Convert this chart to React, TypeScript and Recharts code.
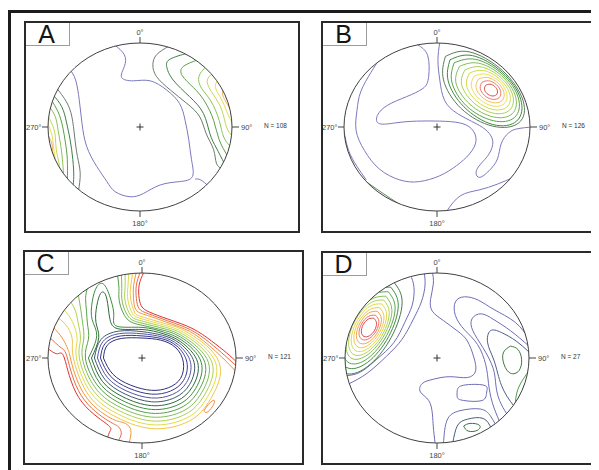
import React from 'react';
import { ComposedChart, Line, XAxis, YAxis, ReferenceDot } from 'recharts';

type P = [number, number];
type Series = { pts: P[]; color: string };

// ================= Panel A (N = 108) =================
const aLow: P[] = [[-0.28,0.98],[-0.17,0.86],[-0.17,0.72],[-0.20,0.59],[-0.07,0.55],[0.11,0.55],[0.29,0.44],[0.43,0.28],[0.49,0.08],[0.53,-0.15],[0.56,-0.39],[0.57,-0.59],[0.43,-0.65],[0.22,-0.69],[0.04,-0.79],[-0.11,-0.83],[-0.27,-0.77],[-0.36,-0.65],[-0.47,-0.47],[-0.58,-0.23],[-0.63,0.04],[-0.66,0.32],[-0.70,0.56],[-0.76,0.68]];
const aLowTail: P[] = [[0.60,-0.62],[0.66,-0.63],[0.74,-0.70]];
const aEast1: P[] = [[0.31,0.96],[0.18,0.86],[0.14,0.74],[0.18,0.60],[0.33,0.44],[0.51,0.28],[0.65,0.12],[0.72,-0.08],[0.80,-0.27],[0.83,-0.43],[0.89,-0.50]];
const aEast2: P[] = [[0.52,0.88],[0.33,0.81],[0.29,0.72],[0.36,0.56],[0.54,0.36],[0.69,0.16],[0.76,-0.08],[0.83,-0.25],[0.92,-0.44]];
const aEast3: P[] = [[0.63,0.80],[0.47,0.72],[0.46,0.61],[0.58,0.47],[0.70,0.31],[0.80,0.08],[0.86,-0.15],[0.96,-0.36]];
const aEast4: P[] = [[0.72,0.72],[0.64,0.60],[0.67,0.46],[0.77,0.31],[0.86,0.08],[0.91,-0.12],[0.99,-0.24]];
const aEast5: P[] = [[0.79,0.64],[0.73,0.54],[0.80,0.38],[0.89,0.20],[0.94,0.0],[1.01,-0.12]];
const aEast6: P[] = [[0.85,0.56],[0.82,0.47],[0.89,0.32],[0.96,0.14],[1.02,0.02]];
const aEast7: P[] = [[0.91,0.46],[0.90,0.38],[0.95,0.27],[1.01,0.16]];
const aWest1: P[] = [[-0.91,0.47],[-0.80,0.30],[-0.74,0.12],[-0.71,-0.12],[-0.68,-0.35],[-0.65,-0.55],[-0.67,-0.77]];
const aWest2: P[] = [[-0.95,0.39],[-0.85,0.24],[-0.80,0.06],[-0.76,-0.15],[-0.73,-0.39],[-0.72,-0.59],[-0.73,-0.71]];
const aWest3: P[] = [[-0.97,0.33],[-0.89,0.18],[-0.84,0.0],[-0.81,-0.19],[-0.79,-0.39],[-0.79,-0.65]];
const aWest4: P[] = [[-0.99,0.25],[-0.92,0.12],[-0.89,-0.04],[-0.86,-0.23],[-0.84,-0.43],[-0.83,-0.59]];
const aWest5: P[] = [[-1.01,0.15],[-0.95,0.02],[-0.92,-0.12],[-0.91,-0.27],[-0.88,-0.43],[-0.87,-0.53]];
const aWest6: P[] = [[-1.01,0.05],[-0.96,-0.08],[-0.94,-0.23],[-0.92,-0.39],[-0.90,-0.47]];
const aWest7: P[] = [[-1.01,-0.08],[-0.96,-0.19],[-0.95,-0.29],[-0.94,-0.39]];

// ================= Panel B (N = 126) =================
const bLowWest: P[] = [[-0.21,0.98],[-0.10,0.85],[-0.09,0.60],[-0.15,0.46],[-0.33,0.36],[-0.53,0.26],[-0.64,0.14],[-0.62,0.04],[-0.44,0.05],[-0.22,0.07],[0.03,0.07],[0.24,0.05],[0.37,-0.02],[0.42,-0.16],[0.35,-0.32],[0.21,-0.46],[0.03,-0.58],[-0.19,-0.65],[-0.40,-0.63],[-0.62,-0.50],[-0.78,-0.28],[-0.87,-0.04],[-0.86,0.20],[-0.82,0.42],[-0.71,0.65],[-0.63,0.79]];
const bLowTongue: P[] = [[0.03,1.01],[0.01,0.79],[0.03,0.56],[0.08,0.32],[0.22,0.16],[0.42,0.04],[0.54,-0.05],[0.60,-0.17],[0.56,-0.32],[0.47,-0.44],[0.42,-0.54],[0.46,-0.60],[0.56,-0.52],[0.65,-0.38],[0.69,-0.20],[0.77,-0.07],[0.87,-0.02],[1.02,0.0]];
const bLowSouth: P[] = [[0.10,-1.01],[0.25,-0.82],[0.45,-0.75],[0.65,-0.68],[0.82,-0.60]];
const bEdgeSW: P[] = [[-0.80,-0.62],[-0.66,-0.73],[-0.50,-0.85],[-0.36,-0.95]];
const bEdgeW: P[] = [[-1.0,-0.05],[-0.95,-0.28],[-0.86,-0.47],[-0.76,-0.63]];
const bCore1: P[] = [[0.09,0.84],[0.345,0.895],[0.703,0.673],[0.925,0.315],[0.88,0.05],[0.60,0.01],[0.26,0.22],[0.07,0.56],[0.09,0.84]];
const bCore2: P[] = [[0.14,0.80],[0.38,0.85],[0.702,0.652],[0.90,0.33],[0.858,0.072],[0.60,0.03],[0.29,0.24],[0.12,0.55],[0.14,0.80]];
const bCore3: P[] = [[0.185,0.765],[0.415,0.805],[0.701,0.631],[0.875,0.345],[0.835,0.115],[0.605,0.075],[0.319,0.249],[0.16,0.535],[0.185,0.765]];
const bCore4: P[] = [[0.242,0.723],[0.445,0.76],[0.695,0.61],[0.845,0.36],[0.808,0.157],[0.605,0.12],[0.355,0.27],[0.205,0.52],[0.242,0.723]];
const bCore5: P[] = [[0.30,0.68],[0.475,0.715],[0.688,0.588],[0.815,0.375],[0.78,0.20],[0.605,0.165],[0.392,0.292],[0.265,0.505],[0.30,0.68]];
const bCore6: P[] = [[0.349,0.642],[0.498,0.673],[0.677,0.567],[0.783,0.388],[0.752,0.238],[0.603,0.208],[0.423,0.313],[0.318,0.492],[0.349,0.642]];
const bCore7: P[] = [[0.397,0.603],[0.52,0.63],[0.666,0.546],[0.75,0.40],[0.723,0.277],[0.60,0.25],[0.454,0.334],[0.37,0.48],[0.397,0.603]];
const bCore8: P[] = [[0.443,0.567],[0.54,0.59],[0.655,0.525],[0.72,0.41],[0.697,0.313],[0.60,0.29],[0.485,0.355],[0.42,0.47],[0.443,0.567]];
const bCore9: P[] = [[0.483,0.532],[0.555,0.55],[0.639,0.504],[0.685,0.42],[0.667,0.348],[0.595,0.33],[0.511,0.376],[0.465,0.46],[0.483,0.532]];
const bCore10: P[] = [[0.523,0.497],[0.57,0.51],[0.622,0.482],[0.65,0.43],[0.637,0.383],[0.59,0.37],[0.538,0.398],[0.51,0.45],[0.523,0.497]];

// ================= Panel C (N = 121) =================
const cLevel0: P[] = [[-0.41,0],[-0.37,0.15],[-0.22,0.23],[0,0.235],[0.20,0.21],[0.36,0.12],[0.44,-0.05],[0.41,-0.24],[0.28,-0.35],[0.10,-0.38],[-0.12,-0.32],[-0.31,-0.19],[-0.41,0]];
const cLevel1: P[] = [[-0.442,0],[-0.392,0.172],[-0.229,0.259],[0,0.26],[0.206,0.229],[0.373,0.138],[0.478,-0.05],[0.442,-0.264],[0.303,-0.389],[0.10,-0.425],[-0.14,-0.355],[-0.338,-0.211],[-0.442,0]];
const cLevel2: P[] = [[-0.474,0],[-0.415,0.195],[-0.238,0.287],[0,0.285],[0.212,0.248],[0.386,0.155],[0.516,-0.05],[0.474,-0.288],[0.325,-0.428],[0.10,-0.47],[-0.16,-0.39],[-0.366,-0.232],[-0.474,0]];
const cLevel3: P[] = [[-0.506,0],[-0.437,0.217],[-0.247,0.316],[0,0.31],[0.218,0.267],[0.40,0.173],[0.554,-0.05],[0.506,-0.312],[0.348,-0.467],[0.10,-0.515],[-0.18,-0.424],[-0.394,-0.253],[-0.506,0]];
const cLevel4: P[] = [[-0.538,0],[-0.46,0.24],[-0.49,0.42],[-0.48,0.62],[-0.44,0.76],[-0.39,0.75],[-0.36,0.60],[-0.34,0.45],[-0.256,0.344],[0,0.335],[0.224,0.286],[0.413,0.19],[0.592,-0.05],[0.538,-0.336],[0.37,-0.506],[0.10,-0.56],[-0.20,-0.459],[-0.422,-0.274],[-0.538,0]];
const cLevel5: P[] = [[-0.57,0],[-0.482,0.262],[-0.53,0.45],[-0.53,0.66],[-0.48,0.84],[-0.40,0.86],[-0.33,0.68],[-0.30,0.50],[-0.265,0.373],[0,0.36],[0.23,0.305],[0.426,0.208],[0.63,-0.05],[0.57,-0.36],[0.393,-0.545],[0.10,-0.605],[-0.22,-0.494],[-0.45,-0.295],[-0.57,0]];
const cLevel6: P[] = [[-0.26,0.97],[-0.245,0.82],[-0.24,0.66],[-0.16,0.46],[0,0.385],[0.236,0.324],[0.439,0.226],[0.668,-0.05],[0.602,-0.384],[0.415,-0.584],[0.10,-0.65],[-0.24,-0.529],[-0.478,-0.316],[-0.602,0],[-0.57,0.22],[-0.58,0.40],[-0.59,0.55],[-0.60,0.70],[-0.58,0.83]];
const cLevel7: P[] = [[-0.22,0.99],[-0.215,0.82],[-0.21,0.66],[-0.14,0.48],[0,0.41],[0.242,0.343],[0.452,0.243],[0.706,-0.05],[0.634,-0.408],[0.438,-0.623],[0.10,-0.695],[-0.26,-0.564],[-0.506,-0.337],[-0.634,0],[-0.62,0.22],[-0.63,0.40],[-0.65,0.56],[-0.68,0.76]];
const cLevel8: P[] = [[-0.18,1.0],[-0.18,0.83],[-0.18,0.67],[-0.12,0.50],[0,0.435],[0.248,0.362],[0.466,0.261],[0.744,-0.05],[0.666,-0.432],[0.46,-0.662],[0.10,-0.74],[-0.28,-0.598],[-0.534,-0.358],[-0.666,0],[-0.655,0.22],[-0.68,0.42],[-0.71,0.56],[-0.77,0.68]];
const cLevel9: P[] = [[-0.14,1.0],[-0.15,0.84],[-0.15,0.68],[-0.10,0.52],[0,0.46],[0.254,0.381],[0.479,0.278],[0.782,-0.05],[0.698,-0.456],[0.483,-0.701],[0.10,-0.785],[-0.30,-0.633],[-0.562,-0.379],[-0.698,0],[-0.69,0.22],[-0.73,0.40],[-0.78,0.50],[-0.84,0.58]];
const cLevel10: P[] = [[-0.10,1.0],[-0.12,0.845],[-0.12,0.69],[-0.08,0.54],[0,0.485],[0.26,0.40],[0.492,0.296],[0.82,-0.05],[0.73,-0.48],[0.505,-0.74],[0.10,-0.83],[-0.32,-0.668],[-0.59,-0.40],[-0.73,0],[-0.74,0.20],[-0.79,0.36],[-0.90,0.48]];
const cLevel11NE: P[] = [[-0.06,1.01],[-0.09,0.85],[-0.09,0.70],[-0.06,0.56],[0.06,0.50],[0.266,0.419],[0.505,0.314],[0.70,0.16],[0.86,0.0],[1.0,-0.16]];
const cLevel11SW: P[] = [[-0.95,0.37],[-0.84,0.22],[-0.78,0.08],[-0.762,0],[-0.618,-0.421],[-0.34,-0.703],[-0.20,-0.76],[-0.12,-0.84],[-0.14,-1.01]];
const cLevel12NE: P[] = [[-0.02,1.01],[-0.06,0.855],[-0.06,0.70],[-0.03,0.58],[0.07,0.52],[0.272,0.438],[0.518,0.331],[0.72,0.18],[0.88,0.03],[1.01,-0.10]];
const cLevel12SW: P[] = [[-0.99,0.25],[-0.86,0.12],[-0.794,0],[-0.646,-0.442],[-0.36,-0.738],[-0.26,-0.80],[-0.22,-0.88],[-0.26,-0.99]];
const cLevel13NE: P[] = [[0.02,1.01],[-0.03,0.86],[-0.03,0.70],[0.0,0.60],[0.08,0.54],[0.278,0.457],[0.532,0.349],[0.74,0.20],[0.90,0.06],[1.01,-0.05]];
const cLevel13SW: P[] = [[-1.01,0.12],[-0.90,0.05],[-0.826,0],[-0.674,-0.463],[-0.38,-0.772],[-0.34,-0.86],[-0.37,-0.95]];
const cSELoop: P[] = [[0.66,-0.62],[0.72,-0.53],[0.77,-0.50],[0.75,-0.57],[0.69,-0.64],[0.66,-0.62]];

// ================= Panel D (N = 27) =================
const dWest1: P[] = [[-0.29,0.98],[-0.25,0.83],[-0.27,0.62],[-0.35,0.42],[-0.47,0.18],[-0.66,-0.02],[-0.84,-0.17],[-1.01,-0.21]];
const dWest2: P[] = [[-0.14,1.01],[-0.13,0.86],[-0.17,0.66],[-0.26,0.45],[-0.38,0.22],[-0.55,0.02],[-0.76,-0.18],[-0.97,-0.31]];
const dMid: P[] = [[-0.05,1.01],[-0.04,0.87],[-0.07,0.69],[-0.05,0.55],[0.07,0.44],[0.22,0.32],[0.33,0.20],[0.40,0.01],[0.42,-0.15],[0.33,-0.23],[0.14,-0.22],[-0.04,-0.25],[-0.16,-0.30],[-0.18,-0.40],[-0.09,-0.50],[-0.05,-0.66],[-0.04,-0.81],[-0.02,-1.01]];
const dMidLoop: P[] = [[0.22,-0.38],[0.29,-0.32],[0.51,-0.32],[0.54,-0.40],[0.49,-0.50],[0.29,-0.50],[0.22,-0.46],[0.22,-0.38]];
const dEast1: P[] = [[1.0,0.22],[0.85,0.42],[0.62,0.57],[0.45,0.68],[0.30,0.72],[0.20,0.66],[0.20,0.50],[0.30,0.33],[0.44,0.16],[0.53,-0.08],[0.56,-0.30],[0.60,-0.52],[0.68,-0.75]];
const dEast2: P[] = [[1.0,0.14],[0.80,0.32],[0.62,0.45],[0.48,0.52],[0.38,0.46],[0.39,0.32],[0.50,0.12],[0.61,-0.12],[0.64,-0.32],[0.68,-0.50],[0.76,-0.66]];
const dEast3: P[] = [[1.0,0.07],[0.86,0.20],[0.70,0.30],[0.58,0.32],[0.55,0.18],[0.61,0.0],[0.66,-0.18],[0.70,-0.32],[0.76,-0.45],[0.84,-0.57]];
const dEastLoop: P[] = [[0.80,0.14],[0.88,0.10],[0.92,-0.02],[0.89,-0.15],[0.80,-0.18],[0.73,-0.08],[0.72,0.06],[0.80,0.14]];
const dEdge1: P[] = [[1.02,-0.12],[0.93,-0.26],[0.87,-0.40],[0.85,-0.55]];
const dEdge2: P[] = [[1.01,-0.22],[0.95,-0.32],[0.92,-0.44]];
const dSouth1: P[] = [[0.07,-1.01],[0.11,-0.73],[0.25,-0.62],[0.47,-0.60],[0.58,-0.68],[0.64,-0.79]];
const dSouth2: P[] = [[0.17,-1.01],[0.22,-0.80],[0.33,-0.72],[0.50,-0.71],[0.59,-0.83]];
const dSouthLoop: P[] = [[0.29,-0.80],[0.36,-0.77],[0.46,-0.79],[0.44,-0.85],[0.34,-0.86],[0.29,-0.80]];
const dCore0: P[] = [[-0.472,0.896],[-0.379,0.654],[-0.499,0.239],[-0.759,-0.104],[-1.008,-0.176],[-1.101,0.066],[-0.981,0.481],[-0.721,0.824],[-0.472,0.896]];
const dCore1: P[] = [[-0.503,0.834],[-0.421,0.619],[-0.525,0.253],[-0.755,-0.051],[-0.977,-0.114],[-1.059,0.101],[-0.955,0.467],[-0.725,0.771],[-0.503,0.834]];
const dCore2: P[] = [[-0.53,0.78],[-0.455,0.589],[-0.548,0.264],[-0.753,-0.005],[-0.95,-0.06],[-1.025,0.131],[-0.932,0.456],[-0.727,0.725],[-0.53,0.78]];
const dCore3: P[] = [[-0.557,0.727],[-0.49,0.559],[-0.57,0.275],[-0.75,0.041],[-0.923,-0.007],[-0.99,0.161],[-0.91,0.445],[-0.73,0.679],[-0.557,0.727]];
const dCore4: P[] = [[-0.579,0.682],[-0.519,0.534],[-0.588,0.284],[-0.747,0.078],[-0.901,0.038],[-0.961,0.186],[-0.892,0.436],[-0.733,0.642],[-0.579,0.682]];
const dCore5: P[] = [[-0.601,0.637],[-0.547,0.509],[-0.606,0.293],[-0.743,0.117],[-0.879,0.083],[-0.933,0.211],[-0.874,0.427],[-0.737,0.603],[-0.601,0.637]];
const dCore6: P[] = [[-0.624,0.592],[-0.576,0.483],[-0.624,0.302],[-0.74,0.155],[-0.856,0.128],[-0.904,0.237],[-0.856,0.418],[-0.74,0.565],[-0.624,0.592]];
const dCore7: P[] = [[-0.646,0.548],[-0.604,0.458],[-0.642,0.311],[-0.736,0.192],[-0.834,0.172],[-0.876,0.262],[-0.838,0.409],[-0.744,0.528],[-0.646,0.548]];
const dCore8: P[] = [[-0.668,0.503],[-0.632,0.433],[-0.66,0.32],[-0.734,0.231],[-0.812,0.217],[-0.848,0.287],[-0.82,0.40],[-0.746,0.489],[-0.668,0.503]];
const dCore9: P[] = [[-0.686,0.467],[-0.658,0.414],[-0.677,0.329],[-0.734,0.262],[-0.794,0.253],[-0.822,0.306],[-0.803,0.391],[-0.746,0.458],[-0.686,0.467]];

// ================= labels =================
const panelLetters = ['A', 'B', 'C', 'D'];
const sampleCounts = [108, 126, 121, 27];
const tickLabels = ['0°', '90°', '180°', '270°'];
const tickX = [0, 1, 0, -1];
const tickY = [1, 0, -1, 0];

// ================= styles =================
const LAV = '#7b79bd';
const RAMP7 = ['#6b7b6b', '#3f7f45', '#5c9f4c', '#8cc25a', '#c2d656', '#e8dc52', '#f0b060'];
const RAMP10 = ['#5b7b5b', '#3e8a3e', '#5aa24a', '#7fbd55', '#a8d050', '#cfdc4c', '#ecdf56', '#f2c25a', '#ea7a6a', '#dd4a4a'];
const RAMP14 = ['#2e2e80', '#38388c', '#5454a8', '#3e5870', '#2f6a3a', '#3f8a40', '#56a048', '#82bc55', '#b0d050', '#dedc48', '#f1c44a', '#f0963c', '#ea6a40', '#dc3232'];
const DRAMP = ['#4a7a4a', '#3f8f3f', '#5aa54a', '#86c05a', '#b2d250', '#dcd94c', '#f0c84a', '#f3a450', '#ec7070', '#e04848'];
const DPURPLE = '#6f6db5';

const seriesA: Series[] = [
  { pts: aLow, color: LAV }, { pts: aLowTail, color: LAV },
  ...[aEast1, aEast2, aEast3, aEast4, aEast5, aEast6, aEast7].map((pts, i) => ({ pts, color: RAMP7[i] })),
  ...[aWest1, aWest2, aWest3, aWest4, aWest5, aWest6, aWest7].map((pts, i) => ({ pts, color: RAMP7[i] })),
];
const seriesB: Series[] = [
  { pts: bLowWest, color: LAV }, { pts: bLowTongue, color: LAV }, { pts: bLowSouth, color: LAV },
  { pts: bEdgeSW, color: '#5d8a5d' }, { pts: bEdgeW, color: LAV },
  ...[bCore1, bCore2, bCore3, bCore4, bCore5, bCore6, bCore7, bCore8, bCore9, bCore10].map((pts, i) => ({ pts, color: RAMP10[i] })),
];
const seriesC: Series[] = [
  ...[cLevel0, cLevel1, cLevel2, cLevel3, cLevel4, cLevel5, cLevel6, cLevel7, cLevel8, cLevel9, cLevel10].map((pts, i) => ({ pts, color: RAMP14[i] })),
  { pts: cLevel11NE, color: RAMP14[11] }, { pts: cLevel11SW, color: RAMP14[11] },
  { pts: cLevel12NE, color: RAMP14[12] }, { pts: cLevel12SW, color: RAMP14[12] },
  { pts: cLevel13NE, color: RAMP14[13] }, { pts: cLevel13SW, color: RAMP14[13] },
  { pts: cSELoop, color: '#ef8a40' },
];
const seriesD: Series[] = [
  { pts: dWest1, color: DPURPLE }, { pts: dWest2, color: DPURPLE }, { pts: dMid, color: DPURPLE },
  { pts: dMidLoop, color: DPURPLE }, { pts: dEast1, color: DPURPLE }, { pts: dEast2, color: DPURPLE },
  { pts: dEast3, color: '#4d5f86' }, { pts: dEastLoop, color: '#3a7a3a' },
  { pts: dEdge1, color: '#4f9f4f' }, { pts: dEdge2, color: '#a8c858' },
  { pts: dSouth1, color: DPURPLE }, { pts: dSouth2, color: '#4a5f7a' }, { pts: dSouthLoop, color: '#3a7040' },
  ...[dCore0, dCore1, dCore2, dCore3, dCore4, dCore5, dCore6, dCore7, dCore8, dCore9].map((pts, i) => ({ pts, color: DRAMP[i] })),
];

// layout (page pixels): frame box, circle centre & radii
const PANELS = [
  { frame: [24, 21, 276, 212], c: [140, 127], r: [92, 84], series: seriesA },
  { frame: [321, 21, 275, 212], c: [437, 127], r: [93, 84], series: seriesB },
  { frame: [23, 250, 281, 215], c: [142, 358], r: [94, 85], series: seriesC },
  { frame: [321, 251, 275, 214], c: [437, 358], r: [92, 85], series: seriesD },
];

const FONT = '"Liberation Sans", Arial, sans-serif';
const toXY = (pts: P[]) => pts.map(([x, y]) => ({ x, y }));

const makeTickShape = (dir: number, label: string) => (s: any) => {
  const { cx, cy } = s;
  const L = 6;
  const t = { fontSize: 7.5, fill: '#444', fontFamily: FONT } as any;
  if (dir === 0)
    return (<g><line x1={cx} y1={cy} x2={cx} y2={cy - L} stroke="#444" strokeWidth={1} /><text x={cx} y={cy - L - 2} textAnchor="middle" {...t}>{label}</text></g>);
  if (dir === 1)
    return (<g><line x1={cx} y1={cy} x2={cx + L + 1} y2={cy} stroke="#444" strokeWidth={1} /><text x={cx + L + 3} y={cy + 3} textAnchor="start" {...t}>{label}</text></g>);
  if (dir === 2)
    return (<g><line x1={cx} y1={cy} x2={cx} y2={cy + L} stroke="#444" strokeWidth={1} /><text x={cx} y={cy + L + 9} textAnchor="middle" {...t}>{label}</text></g>);
  return (<g><line x1={cx} y1={cy} x2={cx - L} y2={cy} stroke="#444" strokeWidth={1} /><text x={cx - L - 0.5} y={cy + 3} textAnchor="end" {...t}>{label}</text></g>);
};

function Panel({ idx }: { idx: number }) {
  const p = PANELS[idx];
  const [fx, fy, fw, fh] = p.frame;
  const [cx, cy] = p.c;
  const [rx, ry] = p.r;
  const margin = { left: cx - rx - fx, right: fx + fw - (cx + rx), top: cy - ry - fy, bottom: fy + fh - (cy + ry) };
  const axes = [
    <XAxis key="x" type="number" dataKey="x" domain={[-1, 1]} hide allowDataOverflow />,
    <YAxis key="y" type="number" dataKey="y" domain={[-1, 1]} hide allowDataOverflow />,
  ];
  const box = { position: 'absolute' as const, left: fx - 8, top: fy - 8, width: fw, height: fh };
  const nText = `N = ${sampleCounts[idx]}`;
  return (
    <>
      <div style={{ ...box, clipPath: `ellipse(${rx}px ${ry}px at ${cx - fx}px ${cy - fy}px)` }}>
        <ComposedChart width={fw} height={fh} margin={margin}>
          {axes}
          {p.series.map((s, i) => (
            <Line key={i} data={toXY(s.pts)} dataKey="y" type="natural" stroke={s.color} strokeWidth={1}
              dot={false} activeDot={false} isAnimationActive={false} legendType="none" />
          ))}
        </ComposedChart>
      </div>
      <div style={box}>
        <ComposedChart width={fw} height={fh} margin={margin}>
          {axes}
          <ReferenceDot x={0} y={0} r={1} isFront
            shape={(s: any) => <ellipse cx={s.cx} cy={s.cy} rx={rx} ry={ry} fill="none" stroke="#404040" strokeWidth={1} />} />
          <ReferenceDot x={0} y={0} r={1} isFront
            shape={(s: any) => <path d={`M${s.cx - 3.5},${s.cy}H${s.cx + 3.5}M${s.cx},${s.cy - 3.5}V${s.cy + 3.5}`} stroke="#333" strokeWidth={1} />} />
          {tickLabels.map((label, i) => (
            <ReferenceDot key={label} x={tickX[i]} y={tickY[i]} r={1} isFront shape={makeTickShape(i, label)} />
          ))}
          <ReferenceDot x={1} y={0} r={1} isFront
            shape={(s: any) => <text x={s.cx + 32} y={s.cy + 1} fontSize={6.5} fill="#333" fontFamily={FONT}>{nText}</text>} />
        </ComposedChart>
      </div>
      <div style={{ position: 'absolute', left: fx - 8, top: fy - 8, width: 45, height: 24, borderRight: '1px solid #9c9c9c', borderBottom: '1px solid #9c9c9c', background: '#fff', fontFamily: FONT, fontSize: 25, lineHeight: '26px', textAlign: 'center', color: '#141414' }}>
        {panelLetters[idx]}
      </div>
      <div style={{ ...box, border: '2px solid #2a2a2a', boxSizing: 'border-box', pointerEvents: 'none' }} />
    </>
  );
}

export default function App() {
  return (
    <div style={{ position: 'relative', width: 591, height: 462, overflow: 'hidden', background: '#fff', fontFamily: FONT }}>
      <div style={{ position: 'absolute', left: 0, top: 2, width: 700, height: 600, borderLeft: '3px solid #1c1c1c', borderTop: '3px solid #1c1c1c' }} />
      {PANELS.map((_, i) => <Panel key={i} idx={i} />)}
    </div>
  );
}
